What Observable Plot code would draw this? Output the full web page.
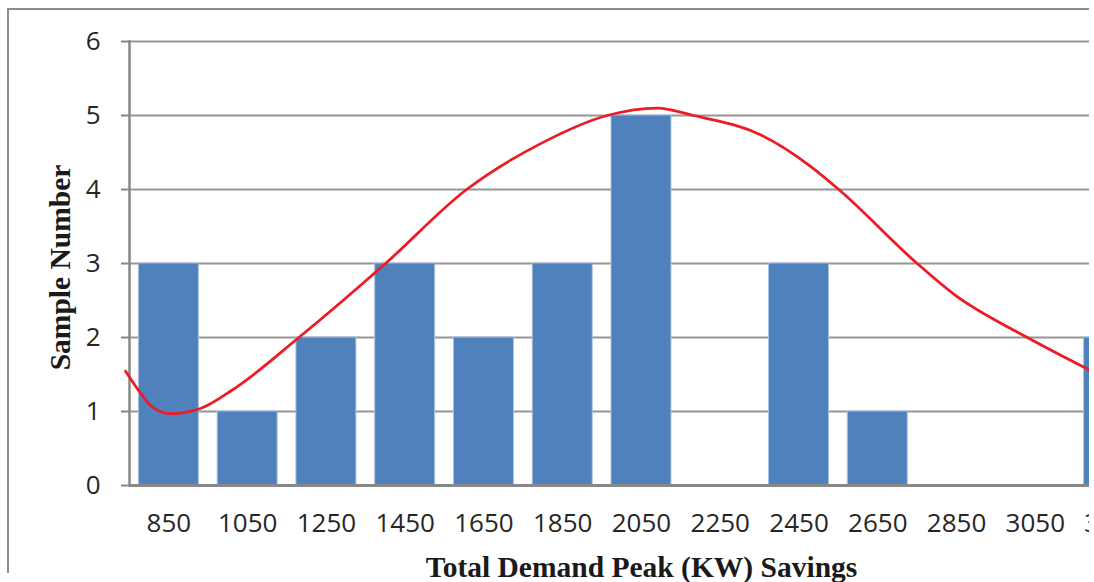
<!DOCTYPE html>
<html>
<head>
<meta charset="utf-8">
<script src="https://cdn.jsdelivr.net/npm/d3@7"></script>
<script src="https://cdn.jsdelivr.net/npm/@observablehq/plot@0.6"></script>
<style>
  html, body { margin: 0; padding: 0; background: #fff; overflow: hidden; }
  #wrap { position: relative; width: 1089px; height: 582px; overflow: hidden; }
  #border { position: absolute; left: 7px; top: 8px; width: 1200px; height: 563px;
            border-left: 2px solid #8c8c8c; border-top: 2px solid #8c8c8c; pointer-events: none; }
  #wrap svg { position: absolute; left: 0; top: 0; overflow: hidden; }
</style>
</head>
<body>
<div id="wrap"><div id="border"></div></div>
<script>
// Histogram bins (kW savings) and sample counts
const bins = [850, 1050, 1250, 1450, 1650, 1850, 2050, 2250, 2450, 2650, 2850, 3050, 3250];
const counts = [3, 1, 2, 3, 2, 3, 5, 0, 3, 1, 0, 0, 2];
const yTicks = [0, 1, 2, 3, 4, 5, 6];
// Fitted (red) curve
const curveKW = [740, 778, 803, 854, 930, 1011, 1180, 1400, 1606, 1794, 1963, 2090, 2182, 2352, 2480, 2551, 2750, 2842, 3030, 3188];
const curveVal = [1.545, 1.25, 1.085, 0.97, 1.04, 1.29, 2.0, 3.0, 4.0, 4.62, 5.0, 5.10, 5.0, 4.74, 4.31, 4.0, 3.0, 2.59, 2.0, 1.56];
const xTitle = "Total Demand Peak (KW) Savings";
const yTitle = "Sample Number";

const binWidth = bins[1] - bins[0];
const bars = bins.map((b, i) => ({bin: b, count: counts[i]}));
const curve = curveKW.map((k, i) => ({kw: k, v: curveVal[i]}));

const chart = Plot.plot({
  width: 1089,
  height: 582,
  marginLeft: 129,
  marginRight: 0,
  marginTop: 41,
  marginBottom: 97,
  x: {domain: [bins[0] - binWidth / 2, 3187.6]},
  y: {domain: [0, 6]},
  style: {fontFamily: "'Open Sans', sans-serif", fontSize: "26px", color: "#262626", background: "transparent", overflow: "hidden"},
  marks: [
    Plot.gridY(yTicks, {stroke: "#969696", strokeOpacity: 1, strokeWidth: 2}),
    Plot.rectY(bars, {
      x1: d => d.bin - binWidth / 2,
      x2: d => d.bin + binWidth / 2,
      y: "count",
      fill: "#4F81BD",
      stroke: "#a9c1e0",
      strokeWidth: 1,
      insetLeft: 9.4,
      insetRight: 9.4
    }),
    Plot.frame({anchor: "left", stroke: "#878787", strokeWidth: 2.5}),
    Plot.ruleY([0], {stroke: "#878787", strokeWidth: 3}),
    Plot.line(curve, {x: "kw", y: "v", stroke: "#ED1C24", strokeWidth: 2.8, curve: "monotone-x"}),
    Plot.axisY(yTicks, {tickSize: 8, tickPadding: 21, stroke: "#878787", strokeWidth: 2, label: null, fill: "#262626", tickFormat: d => String(d)}),
    Plot.axisX(bins, {tickSize: 0, tickPadding: 28, label: null, fill: "#262626", tickFormat: d => String(d)}),
    Plot.text([yTitle], {frameAnchor: "left", textAnchor: "middle", lineAnchor: "middle", rotate: -90, dx: -69, dy: 4,
      fontFamily: "'Liberation Serif', serif", fontWeight: "bold", fontSize: 29.5, fill: "#1a1a1a"}),
    Plot.text([xTitle], {frameAnchor: "bottom", textAnchor: "middle", lineAnchor: "bottom", dx: 32, dy: 91,
      fontFamily: "'Liberation Serif', serif", fontWeight: "bold", fontSize: 29.5, fill: "#1a1a1a"})
  ]
});
document.getElementById("wrap").insertBefore(chart, document.getElementById("border"));
</script>
</body>
</html>
